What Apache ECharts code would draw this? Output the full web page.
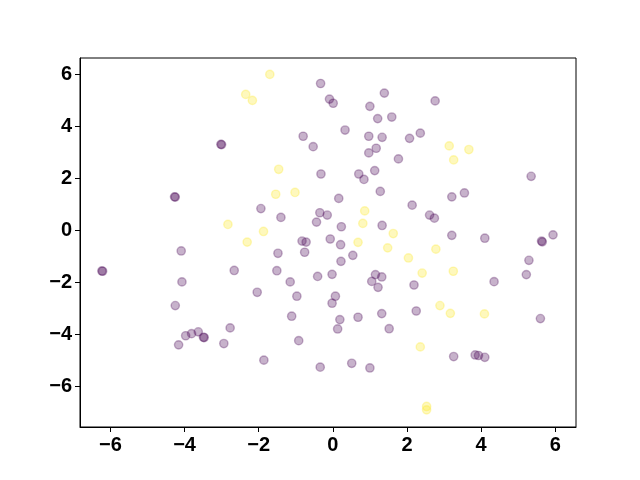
<!DOCTYPE html>
<html>
<head>
<meta charset="utf-8">
<script src="https://cdn.jsdelivr.net/npm/echarts@6/dist/echarts.min.js"></script>
<style>
  html, body { margin: 0; padding: 0; background: #fff; }
  #chart { width: 640px; height: 480px; }
</style>
</head>
<body>
<div id="chart"></div>
<script>
// class 0 (purple) points
var purplePts = [
  [-3.02, 3.31], [-3.00, 3.30], [-4.27, 1.29], [-4.25, 1.28], [-6.23, -1.56], [-6.21, -1.57],
  [-4.09, -0.79], [-2.66, -1.54], [-4.07, -1.98], [-4.25, -2.89], [-2.77, -3.75],
  [-3.97, -4.05], [-3.81, -3.97], [-3.63, -3.90], [-3.49, -4.11], [-3.47, -4.12],
  [-4.16, -4.40], [-2.94, -4.35],
  [-0.33, 5.65], [-0.09, 5.05], [0.01, 4.89], [1.39, 5.28], [1.00, 4.77], [1.21, 4.30],
  [1.59, 4.36], [0.33, 3.86], [-0.80, 3.62], [-0.53, 3.22], [0.97, 3.62], [1.33, 3.58],
  [2.07, 3.54], [2.36, 3.74], [2.76, 4.98], [1.17, 3.16], [0.97, 2.98], [1.77, 2.75],
  [-0.32, 2.17], [0.70, 2.17], [0.84, 1.96], [1.13, 2.30], [5.35, 2.08], [1.28, 1.50],
  [0.16, 1.23], [-1.94, 0.84], [-1.40, 0.50], [-0.35, 0.68], [-0.15, 0.59], [-0.44, 0.32],
  [0.23, 0.14], [1.33, 0.19], [-0.83, -0.41], [-0.72, -0.45], [-0.07, -0.33], [0.21, -0.55],
  [-1.48, -0.88], [-0.76, -0.84], [0.54, -0.96], [0.22, -1.19], [-1.51, -1.55], [-1.15, -1.98],
  [-0.41, -1.77], [-0.02, -1.69], [1.15, -1.70], [1.32, -1.79], [1.05, -1.96], [1.22, -2.19],
  [-2.04, -2.38], [-0.97, -2.53], [0.07, -2.53], [-0.02, -2.80], [-1.11, -3.30], [0.19, -3.43],
  [0.68, -3.34], [1.32, -3.20], [0.13, -3.79], [1.52, -3.78], [-0.92, -4.24], [-1.86, -4.99],
  [-0.34, -5.26], [0.51, -5.11], [1.00, -5.29],
  [2.14, 0.97], [3.21, 1.29], [3.55, 1.44], [2.61, 0.59], [2.74, 0.47], [3.21, -0.19],
  [4.10, -0.30], [5.63, -0.41], [5.65, -0.44], [5.94, -0.17], [5.29, -1.15], [5.22, -1.70],
  [4.35, -1.97], [2.19, -2.10], [2.25, -3.10], [5.60, -3.39], [3.26, -4.85], [3.84, -4.79],
  [3.93, -4.81], [4.10, -4.88]
];
// class 1 (yellow) points
var yellowPts = [
  [-1.70, 6.00], [-2.35, 5.23], [-2.17, 5.00], [-1.46, 2.35], [-1.54, 1.39], [-1.02, 1.46],
  [-2.83, 0.23], [-2.31, -0.45], [-1.87, -0.04], [0.86, 0.75], [0.81, 0.27], [0.68, -0.46],
  [1.48, -0.67], [1.63, -0.12], [2.04, -1.06], [2.41, -1.64], [2.78, -0.72], [3.14, 3.25],
  [3.26, 2.71], [3.67, 3.11], [3.25, -1.57], [2.89, -2.89], [3.17, -3.19], [4.09, -3.21],
  [2.36, -4.48], [2.53, -6.77], [2.53, -6.90]
];
var tickVals = [-6, -4, -2, 0, 2, 4, 6];

var fmt = function(v){
  return String(v).replace('-', '\u2212');
};

function axisOpt(min, max){
  return {
    type: 'value',
    min: min,
    max: max,
    splitLine: { show: false },
    axisLine: { show: true, onZero: false, lineStyle: { color: '#000', width: 1 } },
    axisTick: { show: true, inside: false, length: 5, customValues: tickVals,
      lineStyle: { color: '#000', width: 1 } },
    axisLabel: { show: true, margin: 8, customValues: tickVals, formatter: fmt,
      color: '#000', fontSize: 20, fontWeight: 'bold', fontFamily: 'Liberation Sans' }
  };
}

window.onload = function(){
  var myChart = echarts.init(document.querySelector('#chart'), null, { renderer: 'canvas' });
  var ptStyle = function(col){
    return { color: col, borderColor: col, borderWidth: 1.4, opacity: 0.3 };
  };
  myChart.setOption({
    animation: false,
    backgroundColor: '#fff',
    grid: { left: 80, right: 64, top: 58, bottom: 53, show: true,
      borderColor: '#000', borderWidth: 1, backgroundColor: 'transparent' },
    xAxis: axisOpt(-6.82, 6.56),
    yAxis: axisOpt(-7.56, 6.63),
    series: [
      { type: 'scatter', data: purplePts, symbol: 'circle', symbolSize: 8.3,
        itemStyle: ptStyle('#440154'), emphasis: { disabled: true } },
      { type: 'scatter', data: yellowPts, symbol: 'circle', symbolSize: 8.3,
        itemStyle: ptStyle('#fde725'), emphasis: { disabled: true } }
    ]
  });
  window.addEventListener('resize', function(){ myChart.resize(); }, false);
};
</script>
</body>
</html>
